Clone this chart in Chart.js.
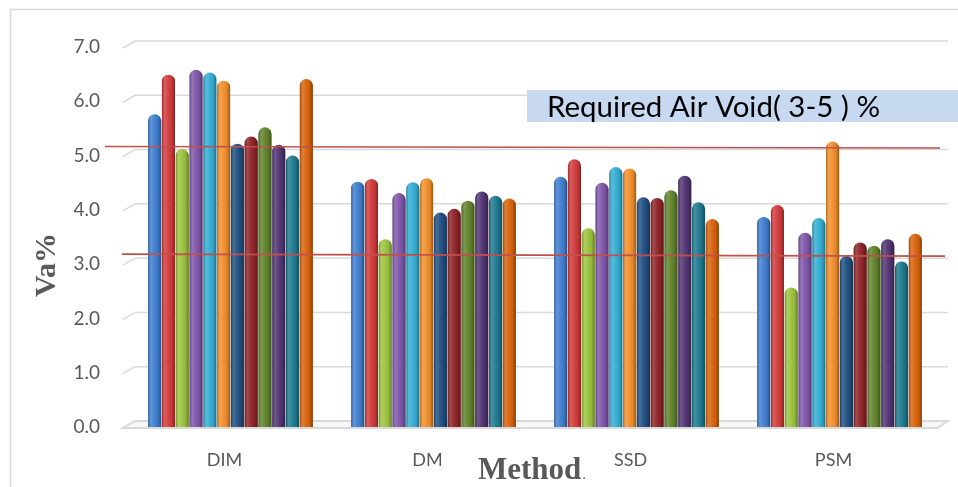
<!DOCTYPE html>
<html>
<head>
<meta charset="utf-8">
<title>Va% by method</title>
<script src="https://cdn.jsdelivr.net/npm/chart.js@4.4.1/dist/chart.umd.min.js"></script>
<style>
  html, body { margin: 0; padding: 0; background: #ffffff; }
  #wrap { width: 958px; height: 487px; }
</style>
</head>
<body>
<div id="wrap"><canvas id="chart" width="958" height="487"></canvas></div>
<script>
// Compaction methods on the category axis
const methods = ['DIM', 'DM', 'SSD', 'PSM'];

// Air voids (Va %) of each mix, one value per method
const mix1  = [5.76, 4.52, 4.61, 3.87];
const mix2  = [6.49, 4.57, 4.93, 4.09];
const mix3  = [5.12, 3.46, 3.66, 2.57];
const mix4  = [6.58, 4.31, 4.50, 3.58];
const mix5  = [6.53, 4.51, 4.79, 3.85];
const mix6  = [6.38, 4.58, 4.76, 5.26];
const mix7  = [5.22, 3.95, 4.23, 3.15];
const mix8  = [5.35, 4.02, 4.22, 3.40];
const mix9  = [5.52, 4.17, 4.36, 3.34];
const mix10 = [5.20, 4.34, 4.63, 3.46];
const mix11 = [5.00, 4.26, 4.14, 3.05];
const mix12 = [6.41, 4.21, 3.83, 3.56];

// Value axis ticks
const vaTicks = [0, 1, 2, 3, 4, 5, 6, 7];

// Specification band for air voids (lower, upper)
const requiredVa = [3, 5];
const requiredLabel = 'Required Air Void( 3-5 ) %';

const mixes = [mix1, mix2, mix3, mix4, mix5, mix6, mix7, mix8, mix9, mix10, mix11, mix12];
const mixColors = ['#3e7ecf', '#d23a3b', '#9cc43e', '#7f56ab', '#33aed4', '#f38f2a',
                   '#1f4e82', '#8e2226', '#61832a', '#513372', '#1d7a8f', '#d9620a'];

const WALL_DX = 6, WALL_DY = 6;   // depth of the back wall
const GRID = '#d9d9d9';

// Back wall, side wall and floor of the 3-D frame
const wallPlugin = {
  id: 'wall',
  beforeDatasetsDraw(chart) {
    const { ctx, chartArea: a } = chart;
    const ys = chart.scales.y;
    ctx.save();
    ctx.strokeStyle = GRID;
    ctx.lineWidth = 1.5;
    vaTicks.forEach(v => {
      const y = ys.getPixelForValue(v);
      ctx.beginPath();
      ctx.moveTo(a.left - WALL_DX, y + 1);
      ctx.lineTo(a.left + WALL_DX, y - WALL_DY);
      ctx.lineTo(a.right + 7, y - WALL_DY);
      ctx.stroke();
    });
    // floor slab
    const y0 = ys.getPixelForValue(0);
    ctx.beginPath();
    ctx.moveTo(a.left - WALL_DX, y0 + 1);
    ctx.lineTo(a.right - 4, y0 + 1);
    ctx.lineTo(a.right + 7, y0 - WALL_DY);
    ctx.lineTo(a.left + WALL_DX, y0 - WALL_DY);
    ctx.closePath();
    ctx.fillStyle = '#f7f7f7';
    ctx.fill();
    ctx.lineWidth = 2;
    ctx.stroke();
    ctx.restore();
  }
};

// Cylinder shading over every bar
const cylinderPlugin = {
  id: 'cylinder',
  afterDatasetsDraw(chart) {
    const { ctx } = chart;
    ctx.save();
    chart.data.datasets.forEach((ds, di) => {
      const meta = chart.getDatasetMeta(di);
      meta.data.forEach(bar => {
        const { x, y, base, width } = bar.getProps(['x', 'y', 'base', 'width'], true);
        const l = x - width / 2;
        const g = ctx.createLinearGradient(l, 0, l + width, 0);
        g.addColorStop(0, 'rgba(0,0,0,0.28)');
        g.addColorStop(0.22, 'rgba(255,255,255,0.18)');
        g.addColorStop(0.42, 'rgba(255,255,255,0.08)');
        g.addColorStop(0.75, 'rgba(0,0,0,0.06)');
        g.addColorStop(1, 'rgba(0,0,0,0.38)');
        const r = Math.min(width / 2, base - y);
        ctx.beginPath();
        ctx.roundRect(l, y, width, base - y, [r, r, 0, 0]);
        ctx.fillStyle = g;
        ctx.fill();
      });
    });
    ctx.restore();
  }
};

// Specification lines, their label, axis titles and frame
const decorPlugin = {
  id: 'decor',
  afterDraw(chart) {
    const { ctx, chartArea: a } = chart;
    const ys = chart.scales.y;
    ctx.save();

    // frame
    ctx.strokeStyle = '#d9d9d9';
    ctx.lineWidth = 1.5;
    ctx.beginPath();
    ctx.moveTo(10.5, chart.height);
    ctx.lineTo(10.5, 9.5);
    ctx.lineTo(chart.width, 9.5);
    ctx.stroke();

    // required air void limits
    ctx.strokeStyle = '#c0504d';
    ctx.lineWidth = 1.6;
    const [lo, hi] = requiredVa;
    const yHi = ys.getPixelForValue(hi) - 9;
    const yLo = ys.getPixelForValue(lo) - 9;
    ctx.beginPath();
    ctx.moveTo(a.left - 24, yHi);
    ctx.lineTo(a.right - 1, yHi + 1.5);
    ctx.stroke();
    ctx.beginPath();
    ctx.moveTo(a.left - 7, yLo - 1);
    ctx.lineTo(a.right + 4, yLo + 1);
    ctx.stroke();

    // label box
    ctx.fillStyle = '#c6d9f1';
    ctx.fillRect(527, 90, chart.width - 527, 32);
    ctx.fillStyle = '#000000';
    ctx.font = '29px Lato';
    ctx.textBaseline = 'alphabetic';
    ctx.textAlign = 'left';
    const w = ctx.measureText(requiredLabel).width;
    ctx.save();
    ctx.translate(547, 117);
    ctx.scale(333 / w, 1);
    ctx.fillText(requiredLabel, 0, 0);
    ctx.restore();

    // axis titles
    ctx.fillStyle = '#595959';
    ctx.font = 'bold 31px "Liberation Serif"';
    ctx.textAlign = 'left';
    ctx.fillText('Method', 478, 479);
    const mw = ctx.measureText('Method').width;
    ctx.font = '15px "Liberation Serif"';
    ctx.fillText('.', 478 + mw + 1, 479);

    ctx.save();
    ctx.translate(55, 265);
    ctx.rotate(-Math.PI / 2);
    ctx.font = 'bold 30px "Liberation Serif"';
    ctx.textAlign = 'center';
    ctx.fillText('Va%', 0, 0);
    ctx.restore();

    ctx.restore();
  }
};

new Chart(document.getElementById('chart'), {
  type: 'bar',
  data: {
    labels: methods,
    datasets: mixes.map((vals, i) => ({
      label: 'Mix ' + (i + 1),
      data: vals,
      backgroundColor: mixColors[i],
      borderWidth: 0,
      borderRadius: 7,
      borderSkipped: 'bottom',
      categoryPercentage: 0.815,
      barPercentage: 0.95
    }))
  },
  options: {
    responsive: false,
    devicePixelRatio: 1,
    animation: false,
    layout: { padding: { left: 0, right: 17, top: 47, bottom: 0 } },
    plugins: {
      legend: { display: false },
      tooltip: { enabled: false }
    },
    scales: {
      x: {
        grid: { display: false, drawTicks: false },
        border: { display: false },
        ticks: {
          color: '#595959',
          font: { family: 'Lato', size: 18 },
          padding: 22,
          labelOffset: -6
        },
        afterFit(scale) { scale.height = 60; }
      },
      y: {
        min: 0,
        max: 7,
        grid: { display: false, drawTicks: false },
        border: { display: false },
        ticks: {
          stepSize: 1,
          color: '#595959',
          font: { family: 'Lato', size: 19 },
          padding: 29,
          callback: v => Number(v).toFixed(1)
        },
        afterFit(scale) { scale.width = 129; }
      }
    }
  },
  plugins: [wallPlugin, cylinderPlugin, decorPlugin]
});
</script>
</body>
</html>
